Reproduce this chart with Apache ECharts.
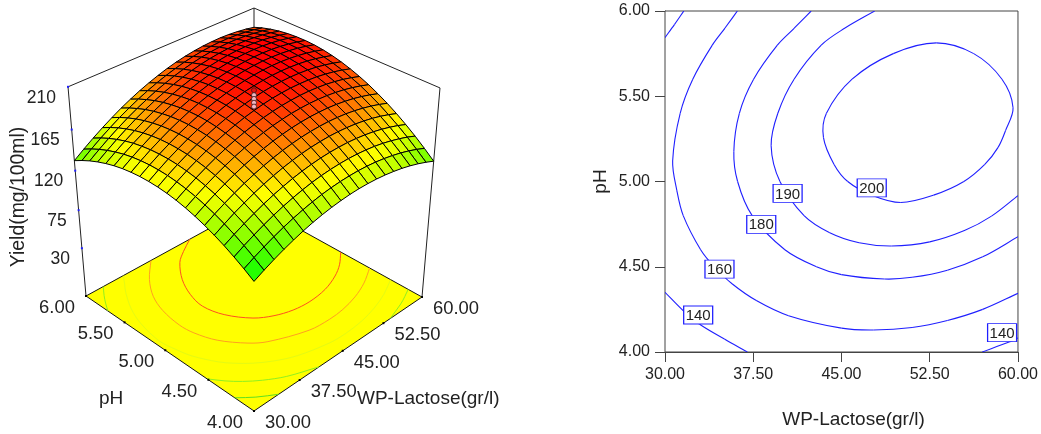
<!DOCTYPE html>
<html><head><meta charset="utf-8">
<style>html,body{margin:0;padding:0;background:#fff}#c{width:1041px;height:434px}</style>
<script src="https://cdn.jsdelivr.net/npm/echarts@6/dist/echarts.min.js"></script>
</head><body><div id="c"></div>
<script>
// ---------- data ----------
const lactoseTicks = [30, 37.5, 45, 52.5, 60];
const phTicks = [4, 4.5, 5, 5.5, 6];
const yieldTicks = [30, 75, 120, 165, 210];
const lactoseGrid = [30,31.5,33,34.5,36,37.5,39,40.5,42,43.5,45,46.5,48,49.5,51,52.5,54,55.5,57,58.5,60];
const phGrid = [4,4.1,4.2,4.3,4.4,4.5,4.6,4.7,4.8,4.9,5,5.1,5.2,5.3,5.4,5.5,5.6,5.7,5.8,5.9,6];
// rows: pH 4.0 -> 6.0, columns: lactose 30 -> 60
const yieldSurface = [
[116.4,121.9,126.9,131.4,135.4,139.0,142.0,144.5,146.5,148.0,149.1,149.6,149.6,149.1,148.1,146.6,144.7,142.2,139.2,135.7,131.7],
[123.3,128.9,134.0,138.6,142.8,146.4,149.5,152.1,154.3,155.9,157.0,157.6,157.8,157.4,156.5,155.1,153.2,150.9,148.0,144.6,140.7],
[129.5,135.3,140.5,145.2,149.5,153.2,156.4,159.1,161.4,163.1,164.3,165.0,165.3,165.0,164.2,163.0,161.2,158.9,156.1,152.9,149.1],
[135.2,141.0,146.3,151.1,155.5,159.3,162.6,165.5,167.8,169.6,171.0,171.8,172.1,172.0,171.3,170.1,168.5,166.3,163.6,160.5,156.8],
[140.1,146.0,151.5,156.4,160.9,164.8,168.2,171.2,173.6,175.6,177.0,177.9,178.4,178.3,177.7,176.7,175.1,173.1,170.5,167.4,163.9],
[144.4,150.5,156.0,161.0,165.6,169.6,173.2,176.2,178.8,180.8,182.4,183.4,183.9,184.0,183.5,182.6,181.1,179.1,176.7,173.7,170.3],
[148.1,154.2,159.9,165.0,169.7,173.8,177.5,180.6,183.3,185.4,187.1,188.2,188.9,189.0,188.7,187.8,186.4,184.6,182.2,179.4,176.0],
[151.1,157.3,163.1,168.3,173.1,177.4,181.1,184.4,187.1,189.4,191.1,192.4,193.1,193.4,193.1,192.4,191.1,189.4,187.1,184.4,181.2],
[153.5,159.8,165.7,171.0,175.9,180.2,184.1,187.5,190.3,192.7,194.5,195.9,196.7,197.1,197.0,196.3,195.2,193.5,191.4,188.7,185.6],
[155.2,161.6,167.6,173.0,178.0,182.5,186.4,189.9,192.9,195.3,197.3,198.8,199.7,200.2,200.1,199.6,198.6,197.0,195.0,192.5,189.4],
[156.2,162.8,168.9,174.4,179.5,184.1,188.1,191.7,194.8,197.3,199.4,201.0,202.0,202.6,202.7,202.2,201.3,199.9,197.9,195.5,192.6],
[156.6,163.3,169.5,175.1,180.3,185.0,189.2,192.8,196.0,198.7,200.9,202.5,203.7,204.4,204.6,204.2,203.4,202.1,200.2,197.9,195.1],
[156.4,163.2,169.4,175.2,180.5,185.3,189.6,193.3,196.6,199.4,201.7,203.4,204.7,205.5,205.8,205.6,204.8,203.6,201.9,199.7,197.0],
[155.5,162.4,168.8,174.6,180.0,184.9,189.3,193.2,196.6,199.4,201.8,203.7,205.1,206.0,206.4,206.2,205.6,204.5,202.9,200.8,198.2],
[154.0,161.0,167.4,173.4,178.9,183.9,188.4,192.4,195.9,198.9,201.3,203.3,204.8,205.8,206.3,206.3,205.8,204.8,203.2,201.2,198.7],
[151.8,158.9,165.5,171.5,177.1,182.2,186.8,190.9,194.5,197.6,200.2,202.3,203.9,205.0,205.6,205.7,205.3,204.4,203.0,201.0,198.6],
[148.9,156.1,162.8,169.0,174.7,179.9,184.6,188.8,192.5,195.7,198.4,200.6,202.3,203.5,204.2,204.4,204.1,203.3,202.0,200.2,197.9],
[145.4,152.7,159.5,165.8,171.7,177.0,181.8,186.1,189.9,193.2,196.0,198.3,200.1,201.4,202.2,202.5,202.3,201.6,200.4,198.7,196.5],
[141.3,148.7,155.6,162.0,167.9,173.3,178.2,182.7,186.6,190.0,192.9,195.3,197.2,198.6,199.5,200.0,199.8,199.2,198.1,196.6,194.5],
[136.5,144.0,151.0,157.5,163.6,169.1,174.1,178.6,182.6,186.1,189.1,191.7,193.7,195.2,196.2,196.7,196.7,196.2,195.2,193.8,191.8],
[131.1,138.7,145.8,152.4,158.5,164.2,169.3,173.9,178.0,181.6,184.8,187.4,189.5,191.1,192.2,192.8,193.0,192.6,191.7,190.3,188.4]
];
const centerPointYields = [207, 202, 198, 194, 190];

// contour lines of the right-hand plot: [lactose, pH]
const contour200 = [[53.06,5.813],[56.24,5.75],[58.64,5.6],[59.58,5.433],[58.95,5.3],[58.31,5.2],[57.18,5.1],[55.4,5],[52.83,4.92],[50.04,4.877],[47.58,4.92],[45.53,5],[44.37,5.1],[43.47,5.257],[43.72,5.4],[45.9,5.6],[49.4,5.75],[53.06,5.813]];
const contour190 = [[47.82,6],[45.3,5.9],[43.28,5.8],[40.97,5.6],[39.59,5.4],[39.02,5.21],[39.77,5],[41.82,4.8],[44,4.7],[46.5,4.641],[49.26,4.622],[52.5,4.646],[55.5,4.714],[57.75,4.797],[60,4.917]];
const contour180 = [[42.42,6],[40.995,5.9],[39.55,5.8],[37.53,5.6],[36.32,5.4],[35.85,5.176],[36.17,5],[37.41,4.8],[40.19,4.6],[42.87,4.5],[45,4.454],[48.65,4.428],[51,4.438],[54,4.48],[57,4.558],[60,4.676]];
const contour160 = [[36.15,6],[35.1,5.9],[34.02,5.8],[32.36,5.6],[31.29,5.4],[30.65,5.12],[31.0,4.95],[31.55,4.8],[33.03,4.6],[34.19,4.5],[35.7,4.4],[37.8,4.3],[40.5,4.213],[45,4.14],[47.72,4.129],[51,4.144],[54,4.185],[57,4.25],[60,4.344]];
const contour140a = [[30,5.844],[30.8,5.92],[31.6,6]];
const contour140b = [[30,4.35],[31.67,4.234],[32.94,4.163],[35.05,4.076],[37.0,4]];
const contour140c = [[56.96,4],[59.24,4.058],[60,4.082]];
const contourLabels = [[32.82,4.217,'140'],[34.63,4.486,'160'],[38.18,4.749,'180'],[40.42,4.93,'190'],[47.57,4.963,'200'],[58.65,4.114,'140']];

// the floor of the 3-D box carries its own levels: 130, 145, 160, 175, 190
const floor175 = [[40.89,6],[37.995,5.8],[36,5.6],[34.92,5.4],[34.44,5.16],[34.67,5],[35.72,4.8],[37.97,4.6],[39.87,4.5],[45,4.366],[48.39,4.345],[51,4.356],[54,4.398],[57,4.472],[60,4.581]];
const floor145a = [[32.82,6],[31.71,5.9],[30.74,5.8],[30,5.711]];
const floor145b = [[30,4.515],[31.23,4.4],[32.61,4.3],[34.43,4.2],[36.9,4.1],[40.85,4]];
const floor145c = [[53.76,4],[57,4.065],[58.5,4.105],[60,4.15]];
const floor130 = [[30,4.208],[31.8,4.1],[34,4]];

// ---------- perspective of the left-hand box (styling/geometry only) ----------
const floorFront=[254,411], floorRight=[422,297], floorBack=[254,204], floorLeft=[86,296];
const vanish=[254,2250], topRatio=-0.0967;
const ZMIN=-29, ZMAX=210;
const P=(function(){
  const [x0,y0]=floorFront,[x1,y1]=floorRight,[x2,y2]=floorBack,[x3,y3]=floorLeft;
  const dx1=x1-x2,dy1=y1-y2,dx2=x3-x2,dy2=y3-y2,dx3=x0-x1+x2-x3,dy3=y0-y1+y2-y3;
  const det=dx1*dy2-dx2*dy1, g=(dx3*dy2-dx2*dy3)/det, h=(dx1*dy3-dx3*dy1)/det;
  return {a:x1-x0+g*x1,b:x3-x0+h*x3,c:x0,d:y1-y0+g*y1,e:y3-y0+h*y3,f:y0,g,h,k:topRatio*(1+h)};
})();
function project(lac,ph,z){
  const u=(lac-30)/30,v=(ph-4)/2,w=(z-ZMIN)/(ZMAX-ZMIN);
  const W=P.g*u+P.h*v+1+w*P.k;
  return [(P.a*u+P.b*v+P.c+w*P.k*vanish[0])/W,(P.d*u+P.e*v+P.f+w*P.k*vanish[1])/W];
}
function surfaceColor(z){
  const t=Math.max(0,Math.min(1,(z-116)/(204-116)));
  const r=t<.5?Math.round(510*t):255, g=t<.5?255:Math.round(255-(t-.5)*510);
  return 'rgb('+r+','+g+',0)';
}
const FONT='"Liberation Sans",Arial,sans-serif', INK='#222';
const LINE='#1f1fff';

// painter's order: far cells first
const cells=[];
for(let j=phGrid.length-2;j>=0;j--)for(let i=lactoseGrid.length-2;i>=0;i--)cells.push([i,j,i+j]);
cells.sort((p,q)=>q[2]-p[2]);
const cellData=cells.map(c=>{const i=c[0],j=c[1];return [
  lactoseGrid[i],lactoseGrid[i+1],phGrid[j],phGrid[j+1],
  yieldSurface[j][i],yieldSurface[j][i+1],yieldSurface[j+1][i+1],yieldSurface[j+1][i]];});

const floorLines=[
 {pts:floor130,color:'#60e020'},{pts:floor145a,color:'#90f020'},{pts:floor145b,color:'#90f020'},{pts:floor145c,color:'#90f020'},
 {pts:contour160,color:'#e4fa14'},{pts:floor175,color:'#ffa020'},{pts:contour190,color:'#ff5020'}];
const planLines=[contour140a,contour140b,contour140c,contour160,contour180,contour190,contour200];

function pt(api,l,p,z){return api.coord(project(l,p,z));}
function seg(a,b,color,w){return {type:'line',shape:{x1:a[0],y1:a[1],x2:b[0],y2:b[1]},style:{stroke:color,lineWidth:w||1}};}
// smooth curve through the points, one bezier per pair of neighbours
function curveThrough(px,color,width){
  const n=px.length, closed=n>3&&px[0][0]===px[n-1][0]&&px[0][1]===px[n-1][1];
  const dist=(a,b)=>Math.hypot(a[0]-b[0],a[1]-b[1]);
  const tan=i=>{
    const prev=i>0?px[i-1]:(closed?px[n-2]:px[0]), next=i<n-1?px[i+1]:(closed?px[1]:px[n-1]);
    const d=dist(prev,px[i])+dist(px[i],next)||1;
    return [(next[0]-prev[0])/d,(next[1]-prev[1])/d];
  };
  const children=[];
  for(let i=0;i<n-1;i++){
    const d=dist(px[i],px[i+1])/3,t0=tan(i),t1=tan(i+1);
    children.push({type:'bezierCurve',shape:{x1:px[i][0],y1:px[i][1],x2:px[i+1][0],y2:px[i+1][1],
      cpx1:px[i][0]+t0[0]*d,cpy1:px[i][1]+t0[1]*d,cpx2:px[i+1][0]-t1[0]*d,cpy2:px[i+1][1]-t1[1]*d},
      style:{stroke:color,lineWidth:width,fill:null}});
  }
  return {type:'group',children};
}

const hiddenAxis={type:'value',show:false};

const opt={
 animation:false,
 textStyle:{fontFamily:FONT},
 grid:[
  {left:0,top:0,width:560,height:434,show:false},
  {left:665,top:11,width:355,height:342,show:true,borderColor:'#444',borderWidth:1,backgroundColor:'#fff',z:1}
 ],
 xAxis:[
  Object.assign({gridIndex:0,min:0,max:560},hiddenAxis),
  {gridIndex:1,type:'value',min:30,max:60,interval:7.5,
   axisLine:{lineStyle:{color:'#444'},onZero:false},axisTick:{length:10,lineStyle:{color:'#444'}},splitLine:{show:false},
   axisLabel:{margin:15,fontSize:16,color:INK,formatter:v=>v.toFixed(2),showMinLabel:true,showMaxLabel:true},
   name:'WP-Lactose(gr/l)',nameLocation:'middle',nameGap:58,nameTextStyle:{fontSize:19,color:INK,padding:[0,0,0,24]}}
 ],
 yAxis:[
  Object.assign({gridIndex:0,min:0,max:434,inverse:true},hiddenAxis),
  {gridIndex:1,type:'value',min:4,max:6,interval:0.5,
   axisLine:{lineStyle:{color:'#444'},onZero:false},axisTick:{length:10,lineStyle:{color:'#444'}},splitLine:{show:false},
   axisLabel:{margin:15,fontSize:16,color:INK,formatter:v=>v.toFixed(2),showMinLabel:true,showMaxLabel:true},
   name:'pH',nameLocation:'middle',nameGap:55,nameTextStyle:{fontSize:19,color:INK}}
 ],
 series:[
  // back frame and floor
  {type:'custom',xAxisIndex:0,yAxisIndex:0,silent:true,clip:false,z:2,data:[[0]],
   encode:{x:0,y:0},
   renderItem:(p,api)=>{
    const t=v=>{return pt(api,v[0],v[1],v[2]);};
    const FL=[30,6,ZMIN],FR=[60,4,ZMIN],FF=[30,4,ZMIN],FB=[60,6,ZMIN];
    const TL=[30,6,ZMAX],TR=[60,4,ZMAX],TB=[60,6,ZMAX];
    return {type:'group',children:[
      seg(t(TL),t(TB),'#222'),seg(t(TB),t(TR),'#222'),seg(t(TL),t(FL),'#222'),seg(t(TR),t(FR),'#222'),seg(t(TB),t(FB),'#222'),
      {type:'polygon',shape:{points:[t(FL),t(FF),t(FR),t(FB)]},style:{fill:'#ffff00',stroke:'#111',lineWidth:1}}
    ]};
   }},
  // floor contours
  {type:'custom',xAxisIndex:0,yAxisIndex:0,silent:true,clip:false,z:3,data:floorLines.map((_,i)=>[i]),
   encode:{x:0,y:0},
   renderItem:(p,api)=>{
    const fl=floorLines[api.value(0)];
    return curveThrough(fl.pts.map(q=>pt(api,q[0],q[1],ZMIN)),fl.color,1);
   }},
  // tick dots and tick labels of the 3-D box
  {type:'custom',xAxisIndex:0,yAxisIndex:0,silent:true,clip:false,z:4,data:phTicks.map(v=>[v]),encode:{x:0,y:0},
   renderItem:(p,api)=>{const v=api.value(0),q=pt(api,30,v,ZMIN);
    return {type:'group',children:[
     {type:'rect',shape:{x:q[0]-1,y:q[1]-1,width:2,height:2},style:{fill:'#000'}},
     {type:'text',style:{x:q[0]-29,y:q[1]+12,text:v.toFixed(2),font:'18.4px '+FONT,fill:INK,align:'center',verticalAlign:'middle'}}]};}},
  {type:'custom',xAxisIndex:0,yAxisIndex:0,silent:true,clip:false,z:4,data:lactoseTicks.map(v=>[v]),encode:{x:0,y:0},
   renderItem:(p,api)=>{const v=api.value(0),q=pt(api,v,4,ZMIN);
    return {type:'group',children:[
     {type:'rect',shape:{x:q[0]-1,y:q[1]-1,width:2,height:2},style:{fill:'#000'}},
     {type:'text',style:{x:q[0]+34,y:q[1]+12,text:v.toFixed(2),font:'18.4px '+FONT,fill:INK,align:'center',verticalAlign:'middle'}}]};}},
  {type:'custom',xAxisIndex:0,yAxisIndex:0,silent:true,clip:false,z:4,data:yieldTicks.map(v=>[v]),encode:{x:0,y:0},
   renderItem:(p,api)=>{const v=api.value(0),q=pt(api,30,6,v);
    return {type:'group',children:[
     {type:'rect',shape:{x:q[0]-1,y:q[1]-1,width:2,height:2},style:{fill:'#1f1fff'}},
     {type:'text',style:{x:q[0]-12,y:q[1]+11,text:String(v),font:'17.5px '+FONT,fill:INK,align:'right',verticalAlign:'middle'}}]};}},
  // surface mesh
  {type:'custom',xAxisIndex:0,yAxisIndex:0,silent:true,clip:false,z:5,progressive:0,data:cellData,
   encode:{x:0,y:2},
   renderItem:(p,api)=>{
    const a=api.value(0),b=api.value(1),c=api.value(2),d=api.value(3);
    const z1=api.value(4),z2=api.value(5),z3=api.value(6),z4=api.value(7);
    return {type:'polygon',shape:{points:[pt(api,a,c,z1),pt(api,b,c,z2),pt(api,b,d,z3),pt(api,a,d,z4)]},
      style:{fill:surfaceColor((z1+z2+z3+z4)/4),stroke:'#000',lineWidth:1}};
   }},
  // centre replicate design points
  {type:'custom',xAxisIndex:0,yAxisIndex:0,silent:true,clip:false,z:6,data:centerPointYields.map(v=>[v]),encode:{x:0,y:0},
   renderItem:(p,api)=>{const v=api.value(0),q=pt(api,45,5,v);
    return {type:'circle',shape:{cx:q[0],cy:q[1],r:2.5},style:{fill:v>204?'#e01010':'#f0b8c4',stroke:'#401010',lineWidth:.8}};}},
  // right-hand contour plot
  {type:'custom',xAxisIndex:1,yAxisIndex:1,silent:true,clip:true,z:2,data:planLines.map((_,i)=>[i,i]),
   encode:{x:-1,y:-1},
   renderItem:(p,api)=>curveThrough(planLines[api.value(0)].map(q=>api.coord(q)),LINE,1.1)},
  {type:'scatter',xAxisIndex:1,yAxisIndex:1,data:contourLabels,symbol:'rect',symbolSize:[29,18],silent:true,z:5,
   itemStyle:{color:'#fff',borderColor:LINE,borderWidth:1,opacity:1},
   label:{show:true,position:'inside',formatter:q=>q.value[2],fontSize:15,color:INK,offset:[0,1]}}
 ],
 graphic:[
  {type:'text',left:99,top:389,z:10,style:{text:'pH',font:'19px '+FONT,fill:INK}},
  {type:'text',left:357,top:389,z:10,style:{text:'WP-Lactose(gr/l)',font:'19px '+FONT,fill:INK}},
  {type:'text',x:19,y:197,rotation:Math.PI/2,z:10,style:{text:'Yield(mg/100ml)',font:'19.4px '+FONT,fill:INK,align:'center',verticalAlign:'middle'}}
 ]
};
echarts.init(document.getElementById('c'),null,{renderer:'canvas'}).setOption(opt);
</script></body></html>
